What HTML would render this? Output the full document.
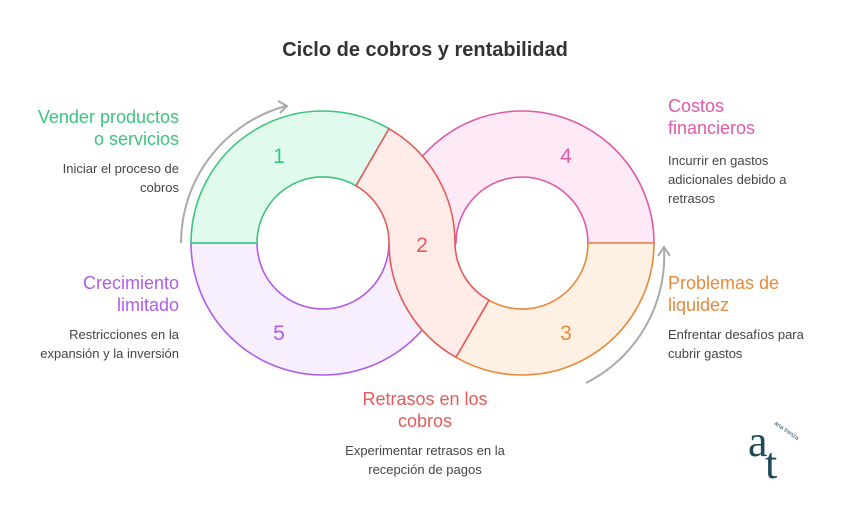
<!DOCTYPE html>
<html><head><meta charset="utf-8"><style>
body{margin:0;width:850px;height:520px;background:#fff;font-family:"Liberation Sans",sans-serif;position:relative;overflow:hidden}
.t{position:absolute;font-size:18px;line-height:22px}
.d{position:absolute;font-size:13px;line-height:19px;color:#444}
.r{text-align:right}.c{text-align:center}
</style></head><body>
<svg width="850" height="520" style="position:absolute;left:0;top:0">
<g stroke-width="1.6">
<path d="M390,243 A132,132 0 0 1 654,243 L588,243 A66,66 0 0 0 456,243 Z" fill="#fdeaf6" stroke="#e058a8"/>
<path d="M455,243 A132,132 0 0 1 191,243 L257,243 A66,66 0 0 0 389,243 Z" fill="#f7eefe" stroke="#b05ce8"/>
<path d="M191,243 A132,132 0 0 1 389,128.7 L356,185.8 A66,66 0 0 0 257,243 Z" fill="#e0fbee" stroke="#3cc47c"/>
<path d="M654,243 A132,132 0 0 1 456,357.3 L489,300.2 A66,66 0 0 0 588,243 Z" fill="#fef0e2" stroke="#e8893a"/>
<path d="M389,128.7 A132,132 0 0 1 455,243 A66,66 0 0 0 489,300.2 L456,357.3 A132,132 0 0 1 389,243 A66,66 0 0 0 356,185.8 Z" fill="#ffebe8" stroke="#e55a5a"/>
</g>
<g fill="none" stroke="#aaa" stroke-width="2">
<path d="M181,243 A142,142 0 0 1 286,106"/>
<path d="M278,101 L287,106 L280,113"/>
<path d="M586,383 A142,142 0 0 0 664,248"/>
<path d="M658,256 L664,247 L670,256"/>
</g>
<g font-family="Liberation Sans,sans-serif" font-size="21" text-anchor="middle">
<text x="279" y="163" fill="#3cc47c">1</text>
<text x="422" y="252" fill="#e55a5a">2</text>
<text x="566" y="340" fill="#e8893a">3</text>
<text x="566" y="163" fill="#e058a8">4</text>
<text x="279" y="340" fill="#b05ce8">5</text>
</g>
<g fill="#1f4a5a">
<text x="748" y="456" font-family="Liberation Serif,serif" font-size="44">a</text>
<text x="765" y="478" font-family="Liberation Serif,serif" font-size="44">t</text>
<text x="774" y="424" font-family="Liberation Sans,sans-serif" font-size="6" transform="rotate(35 774 424)">ana trenza</text>
</g>
</svg>
<div class="t c" style="left:0;width:850px;top:39px;font-size:20px;font-weight:bold;color:#333">Ciclo de cobros y rentabilidad</div>
<div class="t r" style="left:0;width:179px;top:106px;color:#3cc47c">Vender productos<br>o servicios</div>
<div class="d r" style="left:0;width:179px;top:159px">Iniciar el proceso de<br>cobros</div>
<div class="t r" style="left:0;width:179px;top:272px;color:#b05ce8">Crecimiento<br>limitado</div>
<div class="d r" style="left:0;width:179px;top:325px">Restricciones en la<br>expansión y la inversión</div>
<div class="t" style="left:668px;top:95px;color:#e058a8">Costos<br>financieros</div>
<div class="d" style="left:668px;top:151px">Incurrir en gastos<br>adicionales debido a<br>retrasos</div>
<div class="t" style="left:668px;top:272px;color:#e8893a">Problemas de<br>liquidez</div>
<div class="d" style="left:668px;top:325px">Enfrentar desafíos para<br>cubrir gastos</div>
<div class="t c" style="left:320px;width:210px;top:388px;color:#e55a5a">Retrasos en los<br>cobros</div>
<div class="d c" style="left:300px;width:250px;top:441px">Experimentar retrasos en la<br>recepción de pagos</div>
</body></html>
